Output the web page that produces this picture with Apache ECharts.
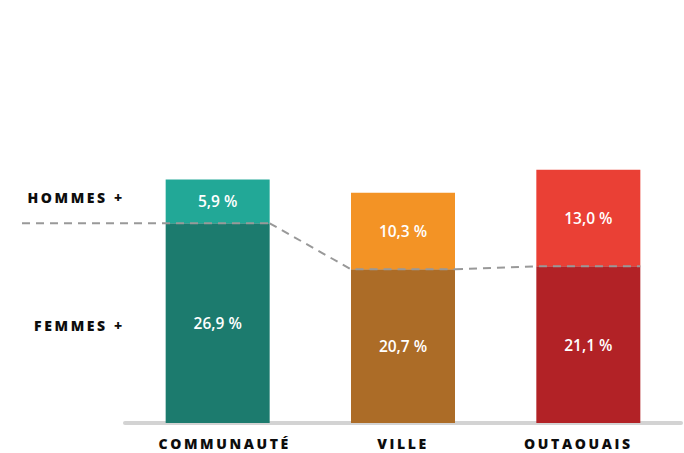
<!DOCTYPE html>
<html>
<head>
<meta charset="utf-8">
<script src="https://cdn.jsdelivr.net/npm/echarts@6/dist/echarts.min.js"></script>
<style>
  html, body { margin: 0; padding: 0; background: #fff; }
  #chart { width: 684px; height: 453px; }
  /* letter-spaced caps labels (svg renderer) */
  text[fill="#0d0d0d"], text[fill="rgb(13,13,13)"] { letter-spacing: 2.6px; }
</style>
</head>
<body>
<div id="chart"></div>
<script>
var categories = ['COMMUNAUTÉ', 'VILLE', 'OUTAOUAIS'];
var femmes = [26.9, 20.7, 21.1];
var hommes = [5.9, 10.3, 13.0];
var rowLabels = ['HOMMES +', 'FEMMES +'];

var topColors = ['#22a897', '#f39325', '#ea4035'];
var bottomColors = ['#1c7b6e', '#ac6c27', '#b22226'];
var labelColor = '#0d0d0d';
var barWidth = 104;

function pct(v) {
    return v.toFixed(1).replace('.', ',') + ' %';
}

function colored(values, colors) {
    return values.map(function (v, i) {
        return { value: v, itemStyle: { color: colors[i] } };
    });
}

var valueLabel = {
    show: true,
    position: 'inside',
    color: '#fff',
    fontFamily: 'Open Sans',
    fontWeight: 600,
    fontSize: 15.5,
    formatter: function (p) { return pct(p.value); }
};

// the category labels are not quite centred under their bars
var catStyle = { color: labelColor, fontFamily: 'Open Sans', fontWeight: 800, fontSize: 14, lineHeight: 14 };
var rich = {
    c0: Object.assign({ padding: [0, 0, 0, 14] }, catStyle),
    c1: Object.assign({ padding: [0, 0, 0, 0] }, catStyle),
    c2: Object.assign({ padding: [0, 20, 0, 0] }, catStyle)
};

var chart = echarts.init(document.getElementById('chart'), null, { renderer: 'svg' });

chart.setOption({
    animation: false,
    grid: { left: 125, right: 3, top: 126, bottom: 30 },
    xAxis: {
        type: 'category',
        data: categories,
        axisLine: { lineStyle: { color: '#d3d3d3', width: 4 } },
        axisTick: { show: false },
        axisLabel: {
            margin: 13,
            lineHeight: 14,
            formatter: function (v, i) { return '{c' + i + '|' + v + '}'; },
            rich: rich
        }
    },
    yAxis: { type: 'value', min: 0, max: 40, show: false },
    graphic: [
        {
            type: 'text', right: 580, top: 190,
            style: { text: rowLabels[0], fill: labelColor, font: '800 14px "Open Sans"' }
        },
        {
            type: 'text', right: 580, top: 318,
            style: { text: rowLabels[1], fill: labelColor, font: '800 14px "Open Sans"' }
        }
    ],
    series: [
        {
            name: 'femmes',
            type: 'bar',
            stack: 'total',
            barWidth: barWidth,
            data: colored(femmes, bottomColors),
            label: valueLabel
        },
        {
            name: 'hommes',
            type: 'bar',
            stack: 'total',
            barWidth: barWidth,
            data: colored(hommes, topColors),
            label: valueLabel
        },
        {
            // dashed line along the femmes tops
            type: 'custom',
            data: femmes,
            z: 5,
            renderItem: function (params, api) {
                var i = params.dataIndex;
                var p = api.coord([i, femmes[i]]);
                var half = barWidth / 2;
                var pts = [];
                if (i === 0) {
                    pts.push([22, p[1]]);
                } else {
                    var q = api.coord([i - 1, femmes[i - 1]]);
                    pts.push([q[0] + half, q[1]]);
                }
                pts.push([p[0] - half, p[1]]);
                pts.push([p[0] + half, p[1]]);
                return {
                    type: 'polyline',
                    shape: { points: pts },
                    style: { stroke: '#999', lineWidth: 2, lineDash: [8, 6], fill: null }
                };
            }
        }
    ]
});
</script>
</body>
</html>
